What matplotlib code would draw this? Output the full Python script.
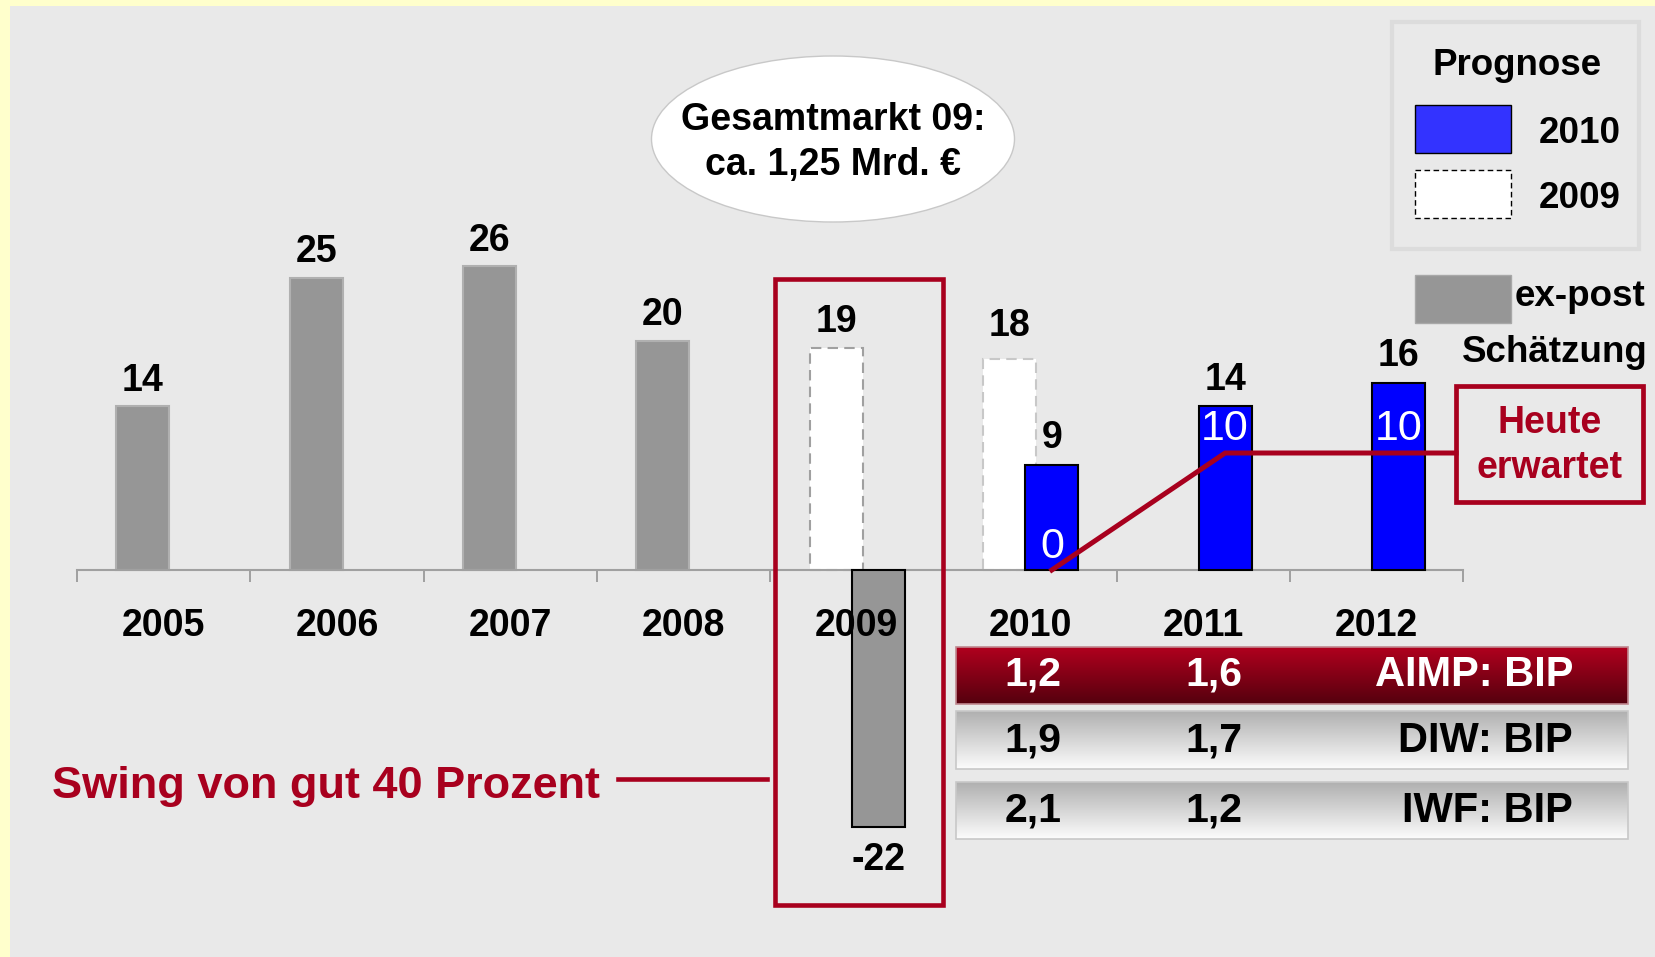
import matplotlib
matplotlib.use('Agg')
import matplotlib.pyplot as plt
import numpy as np
from matplotlib.patches import Rectangle, Ellipse

plt.rcParams['font.family'] = ['Liberation Sans', 'DejaVu Sans']

# data
years = ['2005', '2006', '2007', '2008', '2009', '2010', '2011', '2012']
ex_post_idx = [0, 1, 2, 3]
ex_post = [14, 25, 26, 19.6]
prog09_idx = [4, 5]
prog09 = [19, 18]
actual09_idx = [4]
actual09 = [-22]
prog10_idx = [5, 6, 7]
prog10 = [9, 14, 16]
heute = [0, 10, 10]
table_labels = ['AIMP: BIP', 'DIW: BIP', 'IWF: BIP']
bip_2010 = [1.2, 1.9, 2.1]
bip_2011 = [1.6, 1.7, 1.2]

RED = '#a8001e'
GRAY = '#969696'
BLUE = '#0000ff'
BG = '#e9e9e9'
YELLOW = '#ffffcc'

W, H = 1655, 957
fig = plt.figure(figsize=(W / 100, H / 100), dpi=100)
fig.patch.set_facecolor(YELLOW)

# background panel (pixel coords)
bg = fig.add_axes([0, 0, 1, 1])
bg.set_xlim(0, W)
bg.set_ylim(H, 0)
bg.axis('off')
bg.add_patch(Rectangle((10, 6), W - 10, H - 6, facecolor=BG, edgecolor='none'))

# chart axes: category k spans pixels 77+173.3*(k..k+1), value 0 at row 570, 11.7 px per unit
ax = fig.add_axes([0, 0, 1, 1])
ax.set_facecolor('none')
step, x0 = 173.3, 77
ax.set_xlim(-0.5 - x0 / step, -0.5 + (W - x0) / step)
ax.set_ylim(-(H - 570) / 11.7, 570 / 11.7)

bw = 0.306
left, right = -0.12, 0.125
ax.bar(np.array(ex_post_idx) + left, ex_post, bw, color=GRAY, edgecolor='#b0b0b0',
       lw=1.5, zorder=2)
ax.bar(np.array(prog09_idx) + left, prog09, bw, color='white',
       edgecolor=['#a0a0a0', '#c8c8c8'], lw=1.5, ls=(0, (5, 3)), zorder=2)
ax.bar(np.array(actual09_idx) + right, actual09, bw, color=GRAY, edgecolor='black',
       lw=1.5, zorder=3)
ax.bar(np.array(prog10_idx) + right, prog10, bw, color=BLUE, edgecolor='black',
       lw=1.5, zorder=3)

lab = dict(fontsize=27, fontweight='bold', ha='center', va='baseline',
           textcoords='offset points', zorder=6)
for i, v in zip(ex_post_idx, ex_post):
    ax.annotate(f'{v:.0f}', (i + left, v), xytext=(0, 11), **lab)
for i, v, dy in zip(prog09_idx, prog09, [11, 17]):
    ax.annotate(f'{v:.0f}', (i + left, v), xytext=(0, dy), **lab)
for i, v in zip(actual09_idx, actual09):
    ax.annotate(f'{v:.0f}', (i + right, v), xytext=(0, -31), **lab)
for i, v in zip(prog10_idx, prog10):
    ax.annotate(f'{v:.0f}', (i + right, v), xytext=(0, 12), **lab)

for k, y in enumerate(years):
    ax.annotate(y, (k, 0), xytext=(0, -47.5), **lab)

# axis line with ticks between categories
for s in ['top', 'right', 'left']:
    ax.spines[s].set_visible(False)
ax.spines['bottom'].set_position(('data', 0))
ax.spines['bottom'].set_bounds(-0.5, len(years) - 0.5)
ax.spines['bottom'].set_color('#a0a0a0')
ax.spines['bottom'].set_linewidth(1.5)
ax.set_xticks(np.arange(-0.5, len(years)))
ax.tick_params(axis='x', direction='out', length=8.6, width=1.4, color='#a0a0a0',
               labelbottom=False)
ax.set_yticks([])

# overlay (pixel coords)
ov = fig.add_axes([0, 0, 1, 1])
ov.set_xlim(0, W)
ov.set_ylim(H, 0)
ov.axis('off')

# "Heute erwartet" line
hx = np.array(prog10_idx) + right
x_box = ax.transData.inverted().transform(ov.transData.transform((1456, 0)))[0]
ax.plot(list(hx) + [x_box], heute + [heute[-1]], color=RED, lw=3.6, zorder=4,
        solid_joinstyle='miter')
for x, v in zip(hx, heute):
    ax.annotate(str(v), (x, v), xytext=(0, 9), textcoords='offset points',
                ha='center', va='baseline', color='white', fontsize=31, zorder=6)

ov.add_patch(Rectangle((1456, 386), 187, 116, facecolor='none', edgecolor=RED, lw=3.4))
ov.text(1550, 433, 'Heute', color=RED, fontsize=27, fontweight='bold', ha='center',
        va='baseline')
ov.text(1550, 478, 'erwartet', color=RED, fontsize=27, fontweight='bold', ha='center',
        va='baseline')

# bubble
ov.add_patch(Ellipse((833, 139), 363, 166, facecolor='white', edgecolor='#c8c8c8', lw=1))
ov.text(833, 130, 'Gesamtmarkt 09:', fontsize=27, fontweight='bold', ha='center',
        va='baseline')
ov.text(833, 175, 'ca. 1,25 Mrd. €', fontsize=27, fontweight='bold', ha='center',
        va='baseline')

# legend
ov.add_patch(Rectangle((1392, 22), 247, 227, facecolor='none', edgecolor='#dcdcdc', lw=3))
ov.text(1517, 75, 'Prognose', fontsize=26.5, fontweight='bold', ha='center', va='baseline')
ov.add_patch(Rectangle((1415, 105), 96, 48, facecolor='#3333ff', edgecolor='black', lw=1))
ov.text(1580, 143, '2010', fontsize=26.5, fontweight='bold', ha='center', va='baseline')
ov.add_patch(Rectangle((1415, 170), 96, 48, facecolor='white', edgecolor='black', lw=1,
                       ls=(0, (4, 2.5))))
ov.text(1580, 208, '2009', fontsize=26.5, fontweight='bold', ha='center', va='baseline')
ov.add_patch(Rectangle((1415, 275), 96, 48, facecolor=GRAY, edgecolor='#a8a8a8', lw=1))
ov.text(1515, 306, 'ex-post', fontsize=26.5, fontweight='bold', ha='left', va='baseline')
ov.text(1462, 362, 'Schätzung', fontsize=26.5, fontweight='bold', ha='left', va='baseline')

# 2009 box and swing
ov.add_patch(Rectangle((775, 279), 168, 626, facecolor='none', edgecolor=RED, lw=3.3,
                       zorder=7))
ov.plot([618, 767], [779, 779], color=RED, lw=3.3)
ov.text(52, 798, 'Swing von gut 40 Prozent', color=RED, fontsize=32.5, fontweight='bold',
        ha='left', va='baseline')

# table of BIP forecasts
rows = [(647, 704), (711, 769), (782, 839)]
baselines = [686, 752, 822]
t = np.linspace(0, 1, 64)[:, None]
for r, ((top, bot), base) in enumerate(zip(rows, baselines)):
    if r == 0:
        c0, c1 = np.array([176, 0, 30]), np.array([85, 0, 14])
        tc, ec = 'white', '#c08890'
    else:
        c0, c1 = np.array([176, 176, 176]), np.array([252, 252, 252])
        tc, ec = 'black', '#c8c8c8'
    grad = ((c0 + (c1 - c0) * t) / 255.0)[:, None, :]
    ov.imshow(grad, extent=(956, 1628, bot, top), aspect='auto', zorder=1)
    ov.add_patch(Rectangle((956, top), 672, bot - top, facecolor='none', edgecolor=ec,
                           lw=1.2, zorder=2))
    ov.text(1033, base, f'{bip_2010[r]:.1f}'.replace('.', ','), color=tc, fontsize=29.5,
            fontweight='bold', ha='center', va='baseline', zorder=3)
    ov.text(1214, base, f'{bip_2011[r]:.1f}'.replace('.', ','), color=tc, fontsize=29.5,
            fontweight='bold', ha='center', va='baseline', zorder=3)
    ov.text(1573, base, table_labels[r], color=tc, fontsize=30, fontweight='bold',
            ha='right', va='baseline', zorder=3)
ov.set_xlim(0, W)
ov.set_ylim(H, 0)

fig.savefig('out.png', dpi=100, facecolor=fig.get_facecolor())
